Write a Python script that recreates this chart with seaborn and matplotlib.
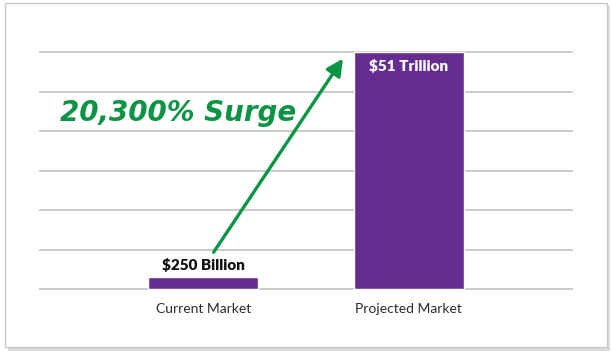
import matplotlib
matplotlib.use("Agg")
import matplotlib.pyplot as plt
import seaborn as sns
import pandas as pd
from matplotlib.patches import Rectangle

sns.set_style("white")
plt.rcParams['font.family'] = ['Lato', 'DejaVu Sans']

## data ##
categories = ["Current Market", "Projected Market"]
heights = [2.5, 51]          # bar heights as drawn (trillions, current bar exaggerated)
value_labels = ["$250 Billion", "$51 Trillion"]
grid_levels = [0, 8.5, 17, 25.5, 34, 42.5, 51]
headline = "20,300% Surge"

purple = "#662d91"
green = "#0b9444"

df = pd.DataFrame({"Market": categories, "Value": heights})

fig = plt.figure(figsize=(6.13, 3.52), dpi=100)

# card frame with shadow
fig.patches.append(Rectangle((8/613, 1-351/352), 602/613, 345/352, transform=fig.transFigure,
                             facecolor="#dcdcdc", edgecolor="none", zorder=-3))
fig.patches.append(Rectangle((5/613, 1-347/352), 602/613, 344/352, transform=fig.transFigure,
                             facecolor="white", edgecolor="#c9c9c9", linewidth=1, zorder=-2))

ax = fig.add_axes([39/613, 1-295/352, (573-39)/613, (295-40)/352])
ax.patch.set_alpha(0)

for g in grid_levels:
    ax.axhline(g, color="#c8c8c8", linewidth=1.3, zorder=0)

sns.barplot(data=df, x="Market", y="Value", color=purple, width=0.535,
            saturation=1, ax=ax, zorder=2)

ax.set_xlim(-0.8, 1.8)
ax.set_ylim(-1.29, 53.6)
ax.set_xlabel("")
ax.set_ylabel("")
ax.set_yticks([])
ax.tick_params(axis="x", length=0, pad=6, labelsize=10, labelcolor="#2b2b2b")
sns.despine(ax=ax, left=True, bottom=True)

# value labels
ax.text(0, heights[0] + 1.2, value_labels[0], ha="center", va="bottom",
        fontsize=11, fontweight="heavy", color="#111111")
ax.text(1, heights[1] - 1.5, value_labels[1], ha="center", va="top",
        fontsize=11, fontweight="heavy", color="white")

# arrow and headline
ax.annotate("", xy=(0.68, 49.6), xytext=(0.05, 7.9),
            arrowprops=dict(arrowstyle="-|>,head_length=1.0,head_width=0.5",
                            color=green, lw=2.4, shrinkA=0, shrinkB=0))
ax.text(-0.70, 37.8, headline, ha="left", va="center", fontsize=20,
        fontweight="bold", fontstyle="italic", color=green, family="DejaVu Sans")

fig.savefig("out.png", dpi=100)
